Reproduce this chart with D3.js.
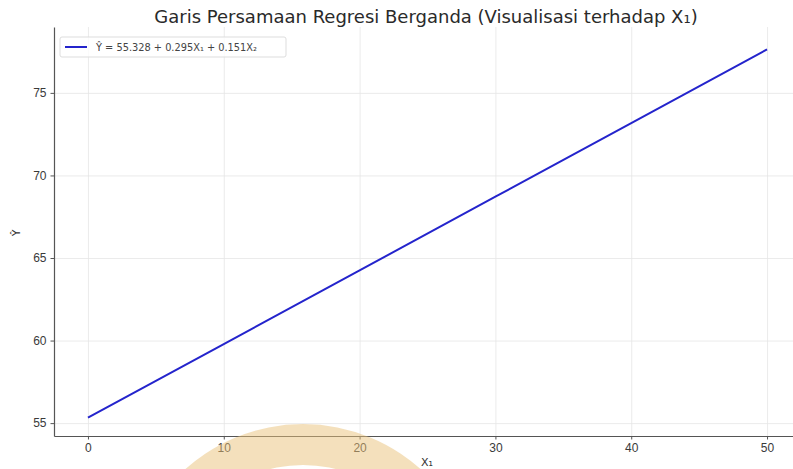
<!DOCTYPE html>
<html lang="id">
<head>
<meta charset="UTF-8">
<title>Garis Persamaan Regresi Berganda</title>
<style>
    body { margin: 0; padding: 0; background: #fff; }
    svg { display: block; font-family: "DejaVu Sans", sans-serif; }
    .grid line { stroke: #e6e6e6; stroke-width: 0.8; }
    .grid path { display: none; }
    .axis path, .axis line { stroke: #555; }
    .axis text { fill: #3a3a3a; font-size: 12px; }
</style>
</head>
<body>
<div id="chart"></div>
<script src="https://cdnjs.cloudflare.com/ajax/libs/d3/7.8.5/d3.min.js"></script>
<script>
// data
const x1Values = [0, 10, 20, 30, 40, 50];
const yHat = [55.33, 59.79, 64.25, 68.71, 73.17, 77.63];
const xTicks = [0, 10, 20, 30, 40, 50];
const yTicks = [55, 60, 65, 70, 75];
const titleText = "Garis Persamaan Regresi Berganda (Visualisasi terhadap X\u2081)";
const legendLabel = "\u0176 = 55.328 + 0.295X\u2081 + 0.151X\u2082";

const width = 793, height = 469;
const margin = {top: 27, right: -8, bottom: 33, left: 54};

const svg = d3.select("#chart").append("svg")
    .attr("width", width).attr("height", height);

const x = d3.scaleLinear().domain([-2.5, 52.5]).range([margin.left, width - margin.right]);
const y = d3.scaleLinear().domain([54.22, 78.99]).range([height - margin.bottom, margin.top]);

// grid
svg.append("g").attr("class", "grid")
    .attr("transform", `translate(0,${height - margin.bottom})`)
    .call(d3.axisBottom(x).tickValues(xTicks).tickSize(-(height - margin.top - margin.bottom)).tickFormat(""));
svg.append("g").attr("class", "grid")
    .attr("transform", `translate(${margin.left},0)`)
    .call(d3.axisLeft(y).tickValues(yTicks).tickSize(-(width - margin.left - margin.right)).tickFormat(""));

// regression line
const line = d3.line().x((d, i) => x(x1Values[i])).y(d => y(d));
svg.append("path").datum(yHat)
    .attr("d", line)
    .attr("fill", "none")
    .attr("stroke", "#2424cc")
    .attr("stroke-width", 2);

// axes (left and bottom only)
const xAxis = svg.append("g").attr("class", "axis")
    .attr("transform", `translate(0,${height - margin.bottom})`)
    .call(d3.axisBottom(x).tickValues(xTicks).tickSize(3.5).tickPadding(4).tickSizeOuter(0));
xAxis.select(".domain").attr("stroke-width", 1.2);
const yAxis = svg.append("g").attr("class", "axis")
    .attr("transform", `translate(${margin.left},0)`)
    .call(d3.axisLeft(y).tickValues(yTicks).tickSize(3.5).tickPadding(4).tickSizeOuter(0));
yAxis.select(".domain").attr("stroke-width", 1.2);

// title and axis labels
svg.append("text")
    .attr("x", 426).attr("y", 23)
    .attr("text-anchor", "middle")
    .attr("font-size", 18).attr("fill", "#2a2a2a")
    .text(titleText);
svg.append("text")
    .attr("x", 427).attr("y", 466)
    .attr("text-anchor", "middle")
    .attr("font-size", 11).attr("fill", "#333")
    .text("X\u2081");
svg.append("text")
    .attr("transform", "translate(20,233) rotate(-90)")
    .attr("text-anchor", "middle")
    .attr("font-size", 11).attr("fill", "#333")
    .text("\u0176");

// legend
const lg = svg.append("g").attr("transform", "translate(60,37)");
lg.append("rect")
    .attr("width", 226).attr("height", 20).attr("rx", 2)
    .attr("fill", "#fff").attr("fill-opacity", 0.8)
    .attr("stroke", "#dddddd");
lg.append("line")
    .attr("x1", 5).attr("x2", 27).attr("y1", 10).attr("y2", 10)
    .attr("stroke", "#2424cc").attr("stroke-width", 2);
lg.append("text")
    .attr("x", 36).attr("y", 13.5)
    .attr("font-size", 9.8).attr("fill", "#444")
    .text(legendLabel);

// faint watermark ring at the bottom
const arc = d3.arc().innerRadius(135).outerRadius(176).startAngle(-Math.PI / 2).endAngle(Math.PI / 2);
svg.append("path")
    .attr("transform", "translate(303,600)")
    .attr("d", arc())
    .attr("fill", "#e9c27a")
    .attr("fill-opacity", 0.5);
</script>
</body>
</html>
